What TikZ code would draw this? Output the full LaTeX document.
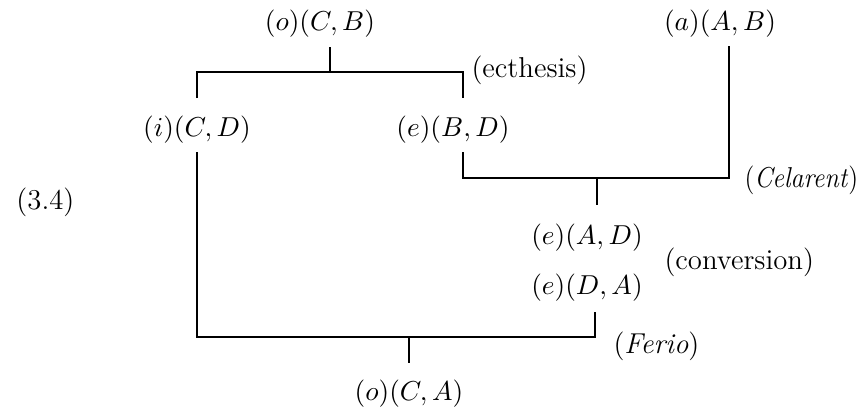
\documentclass[tikz,border=0pt]{standalone}
\begin{document}
\begin{tikzpicture}[x=0.4pt,y=-0.4pt,
  lbl/.style={inner sep=0pt, font=\fontsize{11.3}{13}\selectfont},
  note/.style={anchor=west, inner sep=0pt, font=\fontsize{11.5}{13}\selectfont},
  ln/.style={line width=0.8pt}]
\useasboundingbox (0,0) rectangle (868,414);
% formulas
\node[lbl] (CB) at (320,24) {$(o)(C,B)$};
\node[lbl] (AB) at (720,24) {$(a)(A,B)$};
\node[lbl] (CD) at (197,130) {$(i)(C,D)$};
\node[lbl] (BD) at (453,130) {$(e)(B,D)$};
\node[lbl] (AD) at (587,238) {$(e)(A,D)$};
\node[lbl] (DA) at (587,288) {$(e)(D,A)$};
\node[lbl] (CA) at (409,394) {$(o)(C,A)$};
% rule names
\node[note] (ec) at (471,70) {(ecthesis)};
\node[note] (ce) at (744,180) {\scalebox{0.9}[1]{(\textit{Celarent})}};
\node[note] (cv) at (664,262) {(conversion)};
\node[note] (fe) at (613,346) {(\textit{Ferio})};
\node[note] (eq) at (16,202) {(3.4)};
% junction coordinates
\coordinate (t1) at (330,47);
\coordinate (h1) at (330,72);
\coordinate (l1) at (197,98);
\coordinate (r1) at (463,98);
\coordinate (l2) at (463,152);
\coordinate (r2) at (729,46);
\coordinate (h2) at (597,178);
\coordinate (b2) at (597,205);
\coordinate (l3) at (197,152);
\coordinate (r3) at (595,312);
\coordinate (h3) at (409,337);
\coordinate (b3) at (409,363);
% brackets
\draw[ln] (l1) -- (l1 |- h1) -- (r1 |- h1) -- (r1);
\draw[ln] (t1) -- (h1);
\draw[ln] (l2) -- (l2 |- h2) -- (r2 |- h2) -- (r2);
\draw[ln] (h2) -- (b2);
\draw[ln] (l3) -- (l3 |- h3) -- (r3 |- h3) -- (r3);
\draw[ln] (h3) -- (b3);
\end{tikzpicture}
\end{document}
